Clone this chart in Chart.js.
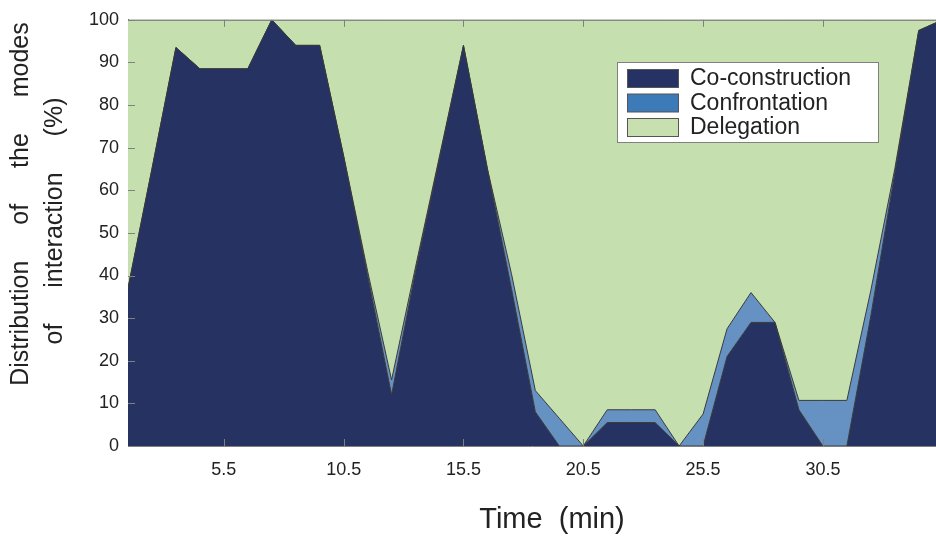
<!DOCTYPE html>
<html><head><meta charset="utf-8">
<script src="https://cdn.jsdelivr.net/npm/chart.js@4.4.0/dist/chart.umd.min.js"></script>
<style>html,body{margin:0;padding:0;background:#fff;overflow:hidden}#wrap{position:relative;width:936px;height:538px}</style>
</head><body><div id="wrap"><canvas id="c" width="936" height="538"></canvas></div>
<script>
const minutes = [1.5,2.5,3.5,4.5,5.5,6.5,7.5,8.5,9.5,10.5,11.5,12.5,13.5,14.5,15.5,16.5,17.5,18.5,19.5,20.5,21.5,22.5,23.5,24.5,25.5,26.5,27.5,28.5,29.5,30.5,31.5,32.5,33.5,34.5,35.5];
const coConstruction = [37,65,93.5,88.5,88.5,88.5,100,94,94,68,40,12,41,67.5,94,65,37,8,0,0,5.5,5.5,5.5,0,0,21,29,29,8.5,0,0,30.5,64,97.5,100];
const confrontation  = [0,0,0,0,0,0,0,0,0,0,1,3.5,1,0.5,0,0,3.5,5,6.5,0,3,3,3,0,7.5,6.5,7,0,2.2,10.7,10.7,6,1,0,0];
const delegation     = [63,35,6.5,11.5,11.5,11.5,0,6,6,32,59,84.5,58,32,6,35,59.5,87,93.5,100,91.5,91.5,91.5,100,92.5,72.5,64,71,89.3,89.3,89.3,63.5,35,2.5,0];
const seriesNames = ['Co-construction','Confrontation','Delegation'];
const xTickValues = [5.5,10.5,15.5,20.5,25.5,30.5];
const xTickLabels = ['5.5','10.5','15.5','20.5','25.5','30.5'];
const yTickValues = [0,10,20,30,40,50,60,70,80,90,100];
const xTitle = 'Time  (min)';
const yTitleLines = ['Distribution of the modes','of interaction (%)'];

const FONT = '"Liberation Sans", Arial, Helvetica, sans-serif';
const TEXT = '#222';
const FRAME = '#808080';
const fills = ['#263262','#6592c3','#c6dfae'];
const legendFills = ['#263264','#3d7ab8','#c8e0b0'];

function pts(arr){ return minutes.map((m,i)=>({x:m,y:arr[i]})); }

const framePlugin = {
  id:'frame',
  afterDatasetsDraw(chart){
    const {ctx, chartArea:a, scales:{x,y}} = chart;
    ctx.save();
    ctx.strokeStyle = FRAME; ctx.lineWidth = 1;
    ctx.beginPath();
    ctx.moveTo(a.left, a.top+0.5); ctx.lineTo(a.right, a.top+0.5);
    ctx.stroke();
    ctx.beginPath();
    xTickValues.forEach(v=>{
      const px = Math.round(x.getPixelForValue(v))+0.5;
      ctx.moveTo(px, a.top); ctx.lineTo(px, a.top+7);
      ctx.moveTo(px, a.bottom); ctx.lineTo(px, a.bottom-7);
    });
    yTickValues.forEach(v=>{
      const py = Math.round(y.getPixelForValue(v))+0.5;
      ctx.moveTo(a.left, py); ctx.lineTo(a.left+7, py);
    });
    ctx.stroke();
    ctx.restore();
  }
};

const titlesPlugin = {
  id:'titles',
  afterDraw(chart){
    const ctx = chart.ctx;
    ctx.save();
    ctx.fillStyle = TEXT;
    ctx.font = '29px ' + FONT;
    ctx.textAlign = 'center'; ctx.textBaseline = 'alphabetic';
    ctx.fillText(xTitle, 552, 528);
    ctx.font = '25px ' + FONT;
    try { ctx.wordSpacing = '29px'; } catch(e){}
    const pos = [[21,204],[55,221]];
    yTitleLines.forEach((t,i)=>{
      ctx.save();
      ctx.translate(pos[i][0], pos[i][1]);
      ctx.rotate(-Math.PI/2);
      ctx.textBaseline = 'middle';
      ctx.fillText(t, 0, 0);
      ctx.restore();
    });
    ctx.restore();
  }
};

const legendPlugin = {
  id:'boxLegend',
  afterDraw(chart){
    const ctx = chart.ctx;
    const bx = 617.5, by = 62.5, bw = 261, bh = 80;
    ctx.save();
    ctx.fillStyle = '#fff';
    ctx.fillRect(bx, by, bw, bh);
    ctx.strokeStyle = FRAME; ctx.lineWidth = 1;
    ctx.strokeRect(bx, by, bw, bh);
    ctx.font = '23px ' + FONT;
    ctx.textBaseline = 'middle'; ctx.textAlign = 'left';
    chart.data.datasets.forEach((ds,i)=>{
      const sy = 69.5 + i*24.5;
      ctx.fillStyle = legendFills[i];
      ctx.fillRect(627.5, sy, 51, 18);
      ctx.strokeStyle = '#555';
      ctx.strokeRect(627.5, sy, 51, 18);
      ctx.fillStyle = TEXT;
      ctx.fillText(ds.label, 690, sy + 9.5);
    });
    ctx.restore();
  }
};

new Chart(document.getElementById('c'), {
  type:'line',
  data:{
    datasets:[
      {label:seriesNames[0], data:pts(coConstruction), backgroundColor:fills[0], fill:'origin'},
      {label:seriesNames[1], data:pts(confrontation), backgroundColor:fills[1], fill:'-1'},
      {label:seriesNames[2], data:pts(delegation), backgroundColor:fills[2], fill:'-1'}
    ].map(d=>Object.assign(d,{borderColor:'#3a3a3a', borderWidth:1, pointRadius:0, tension:0}))
  },
  options:{
    responsive:false, devicePixelRatio:1, animation:false, events:[],
    layout:{padding:{left:0,right:0,top:17,bottom:0}},
    plugins:{legend:{display:false}, tooltip:{enabled:false}},
    scales:{
      x:{type:'linear', min:1.5, max:35.22,
        afterBuildTicks(s){ s.ticks = xTickValues.map(v=>({value:v})); },
        afterFit(s){ s.height = 92; },
        grid:{display:false, drawTicks:false},
        border:{display:true, color:FRAME, width:1},
        ticks:{autoSkip:false, maxRotation:0, padding:13, color:TEXT, font:{family:FONT, size:18},
          callback(v){ const i = xTickValues.indexOf(v); return i>=0 ? xTickLabels[i] : ''; }}
      },
      y:{type:'linear', stacked:true, min:0, max:100,
        afterBuildTicks(s){ s.ticks = yTickValues.map(v=>({value:v})); },
        afterFit(s){ s.width = 128; },
        grid:{display:false, drawTicks:false},
        border:{display:true, color:FRAME, width:1},
        ticks:{padding:9, color:TEXT, font:{family:FONT, size:18}}
      }
    }
  },
  plugins:[framePlugin, titlesPlugin, legendPlugin]
});
</script></body></html>
